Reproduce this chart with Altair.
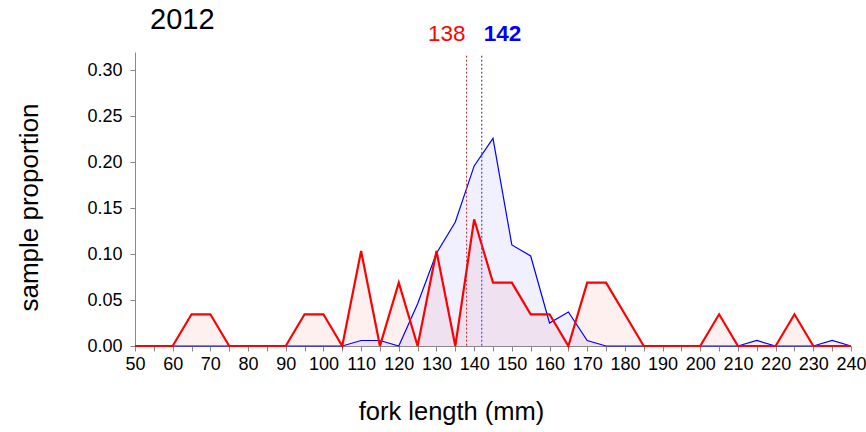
import altair as alt
import pandas as pd

lengths = list(range(50, 245, 5))
red_prop = [0, 0, 0, 0.0345, 0.0345, 0, 0, 0, 0, 0.0345, 0.0345, 0, 0.1034, 0, 0.069, 0,
            0.1034, 0, 0.1379, 0.069, 0.069, 0.0345, 0.0345, 0, 0.069, 0.069, 0.0345, 0,
            0, 0, 0, 0.0345, 0, 0, 0, 0.0345, 0, 0, 0]
blue_prop = [0, 0, 0, 0, 0, 0, 0, 0, 0, 0, 0, 0, 0.006, 0.006, 0, 0.046,
             0.101, 0.135, 0.196, 0.226, 0.110, 0.098, 0.025, 0.037, 0.006, 0, 0, 0,
             0, 0, 0, 0, 0, 0.006, 0, 0, 0, 0.006, 0]
mean_values = [138, 142]
mean_labels = ["138", "142"]
title_text = "2012"

df = pd.DataFrame({"length": lengths * 2,
                   "prop": red_prop + blue_prop,
                   "series": ["red"] * len(lengths) + ["blue"] * len(lengths)})
red_df = df[df.series == "red"]
blue_df = df[df.series == "blue"]

FONT = "Liberation Sans"
xscale = alt.Scale(domain=[50, 240], nice=False, zero=False)
yscale = alt.Scale(domain=[0, 0.32], nice=False)

x_axis = alt.Axis(values=lengths,
                  labelExpr="datum.value % 10 == 0 ? datum.label : ''",
                  labelOverlap=False,
                  title="fork length (mm)", grid=False,
                  domainColor="#888888", tickColor="#888888", tickSize=5,
                  labelFontSize=18, labelFont=FONT, labelColor="black",
                  labelPadding=4, labelFlush=False,
                  titleFontSize=25.5, titleFont=FONT, titleFontWeight="normal",
                  titleColor="black", titleX=316, titleY=65,
                  titleBaseline="middle", titleAlign="center")
x_enc = alt.X("length:Q", scale=xscale, axis=x_axis)
y_enc = alt.Y("prop:Q", scale=yscale,
              axis=alt.Axis(values=[0, 0.05, 0.1, 0.15, 0.2, 0.25, 0.3], format=".2f",
                            labelOverlap=False,
                            title="sample proportion", grid=False,
                            domainColor="#888888", tickColor="#888888", tickSize=5,
                            labelFontSize=18, labelFont=FONT, labelColor="black",
                            labelPadding=8,
                            titleFontSize=26, titleFont=FONT, titleFontWeight="normal",
                            titleColor="black", titleX=-106, titleY=155,
                            titleBaseline="middle", titleAlign="center"))

blue_area = alt.Chart(blue_df).mark_area(color="#0000FF", opacity=0.06).encode(x=x_enc, y=y_enc)
red_area = alt.Chart(red_df).mark_area(color="#FF0000", opacity=0.06).encode(x=x_enc, y=y_enc)
blue_line = alt.Chart(blue_df).mark_line(color="#0000FF", strokeWidth=1.2).encode(x=x_enc, y=y_enc)
red_line = alt.Chart(red_df).mark_line(color="#FF0000", strokeWidth=2.2).encode(x=x_enc, y=y_enc)

mdf = pd.DataFrame({"length": mean_values, "label": mean_labels,
                    "top": [0.316, 0.316], "bot": [0, 0]})
mx = alt.X("length:Q", scale=xscale, axis=x_axis)
red_rule = alt.Chart(mdf.iloc[[0]]).mark_rule(color="#CC2222", strokeDash=[2, 2], strokeWidth=1).encode(
    x=mx, y=alt.Y("top:Q", scale=yscale), y2="bot:Q")
blue_rule = alt.Chart(mdf.iloc[[1]]).mark_rule(color="#5555FF", strokeDash=[2, 2], strokeWidth=1.3).encode(
    x=mx, y=alt.Y("top:Q", scale=yscale), y2="bot:Q")
red_text = alt.Chart(mdf.iloc[[0]]).mark_text(color="#FF0000", fontSize=22.5, font=FONT, align="right",
                                              baseline="middle", dx=-1).encode(
    x=mx, y=alt.value(-18), text="label:N")
blue_text = alt.Chart(mdf.iloc[[1]]).mark_text(color="#0000FF", fontSize=22.5, font=FONT, fontWeight="bold",
                                               align="left", baseline="middle", dx=2).encode(
    x=mx, y=alt.value(-18), text="label:N")
title = alt.Chart(pd.DataFrame({"t": [title_text]})).mark_text(
    fontSize=29, font=FONT, align="left", baseline="middle", color="black").encode(
    x=alt.value(15), y=alt.value(-32), text="t:N")

chart = alt.layer(blue_area, red_area, blue_line, red_line, red_rule, blue_rule,
                  red_text, blue_text, title).properties(
    width=716, height=294,
    autosize=alt.AutoSizeParams(type="none"),
    padding={"left": 135, "top": 52, "right": 15, "bottom": 86},
).configure_view(stroke=None).configure_axis(labelOverlap=False)

chart.save("out.html", embed_options={"renderer": "svg", "actions": False})
